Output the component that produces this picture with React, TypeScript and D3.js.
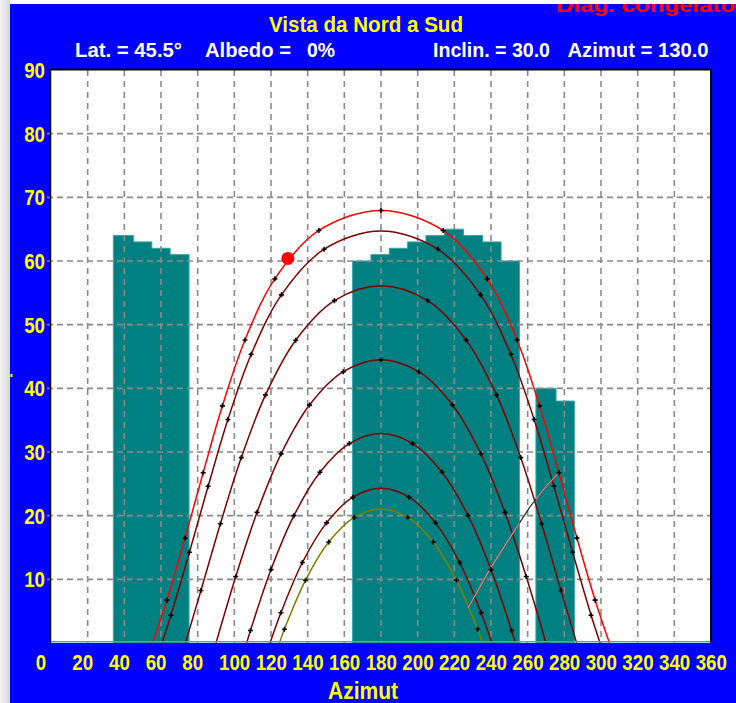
import React, { useRef, useEffect } from 'react'
import * as d3 from 'd3'

// sun paths, one per month: [azimut, altezza, crocetta oraria 1/0]
const giugno21 = [
  [55.4, 0, 0], [63.2, 6.73, 1], [73.1, 16.48, 1], [83.0, 26.75, 1], [93.5, 37.25, 1],
  [105.8, 47.6, 1], [122.1, 57.2, 1], [146.1, 64.8, 1], [180, 67.94, 1], [213.9, 64.8, 1],
  [237.9, 57.2, 1], [254.2, 47.6, 1], [266.5, 37.25, 1], [277.0, 26.75, 1], [286.9, 16.48, 1],
  [296.8, 6.73, 1], [304.6, 0, 0]
]
const maggio21 = [
  [60.5, 0, 0], [65.4, 4.36, 1], [75.5, 14.26, 1], [85.7, 24.61, 1], [96.5, 35.11, 1],
  [109.2, 45.35, 1], [125.7, 54.68, 1], [149.0, 61.85, 1], [180, 64.7, 0], [211.0, 61.85, 1],
  [234.3, 54.68, 1], [250.8, 45.35, 1], [263.5, 35.11, 1], [274.3, 24.61, 1], [284.5, 14.26, 1],
  [294.6, 4.36, 1], [299.5, 0, 0]
]
const aprile21 = [
  [73.3, 0, 0], [81.8, 8.25, 1], [92.4, 18.73, 1], [103.8, 29.12, 1], [117.0, 38.97, 1],
  [133.5, 47.56, 1], [154.6, 53.77, 1], [180, 56.1, 0], [205.4, 53.77, 1], [226.5, 47.56, 1],
  [243.0, 38.97, 1], [256.2, 29.12, 1], [267.6, 18.73, 1], [278.2, 8.25, 1], [286.7, 0, 0]
]
const marzo21 = [
  [90, 0, 0], [100.8, 10.45, 1], [112.4, 20.52, 1], [125.5, 29.71, 1], [141.0, 37.37, 1],
  [159.4, 42.61, 1], [180, 44.5, 1], [200.6, 42.61, 1], [219.0, 37.37, 1], [234.5, 29.71, 1],
  [247.6, 20.52, 1], [259.2, 10.45, 1], [270, 0, 0]
]
const febbraio21 = [
  [106.7, 0, 0], [108.8, 1.97, 1], [120.0, 11.53, 1], [132.5, 20.0, 1], [146.7, 26.82, 1],
  [162.7, 31.32, 1], [180, 32.9, 0], [197.3, 31.32, 1], [213.3, 26.82, 1], [227.5, 20.0, 1],
  [240.0, 11.53, 1], [251.2, 1.97, 1], [253.3, 0, 0]
]
const gennaio21 = [
  [119.5, 0, 0], [125.4, 4.74, 1], [137.1, 12.64, 1], [150.3, 18.87, 1], [164.7, 22.9, 1],
  [180, 24.3, 0], [195.3, 22.9, 1], [209.7, 18.87, 1], [222.9, 12.64, 1], [234.6, 4.74, 1],
  [240.5, 0, 0]
]
const dicembre21 = [
  [124.6, 0, 0], [127.3, 2.17, 1], [138.8, 9.85, 1], [151.5, 15.86, 1], [165.4, 19.72, 1],
  [180, 21.06, 0], [194.6, 19.72, 1], [208.5, 15.86, 1], [221.2, 9.85, 1], [232.7, 2.17, 1],
  [235.4, 0, 0]
]

const sunPaths = [
  { data: giugno21, color: '#ff0000' },
  { data: maggio21, color: '#800000' },
  { data: aprile21, color: '#800000' },
  { data: marzo21, color: '#800000' },
  { data: febbraio21, color: '#800000' },
  { data: gennaio21, color: '#800000' },
  { data: dicembre21, color: '#808000' }
]

// ostacoli (profilo dell'orizzonte): bordi in azimut e altezze
const ostacoli = [
  { edges: [34, 45, 55, 65, 75.3], heights: [64, 63, 62, 61] },
  { edges: [164.5, 174.5, 184.5, 194.5, 204.5, 214.5, 225, 235.5, 245.5, 255.5], heights: [60, 61, 62, 63, 64, 65, 64, 63, 60] },
  { edges: [264.5, 275.5, 285.5], heights: [40, 38] }
]

// linea del piano del pannello
const pianoPannello = [[227.5, 5.5], [239, 11.4], [250.4, 16.6], [261.3, 21.4], [270, 24.6], [277.0, 26.75]]

// normale del pannello
const normale = [129.2, 60.4]

const xTicks = [0, 20, 40, 60, 80, 100, 120, 140, 160, 180, 200, 220, 240, 260, 280, 300, 320, 340, 360]
const yTicks = [10, 20, 30, 40, 50, 60, 70, 80, 90]
const xGrid = xTicks.slice(1, -1)
const yGrid = yTicks.slice(0, -1)

const FONT = '"Liberation Sans", Arial, sans-serif'

const App = () => {
  const container = useRef(null)
  const width = 736
  const height = 703

  useEffect(() => {
    const svg = d3.select(container.current)
    svg.selectAll('*').remove()

    const x = d3.scaleLinear().domain([0, 360]).range([51, 711])
    const y = d3.scaleLinear().domain([0, 90]).range([643, 70])

    const defs = svg.append('defs')
    const grad = defs.append('linearGradient').attr('id', 'strip')
    grad.append('stop').attr('offset', '0%').attr('stop-color', '#f4f4f4')
    grad.append('stop').attr('offset', '100%').attr('stop-color', '#d6d6d6')
    defs.append('clipPath').attr('id', 'blueClip')
      .append('rect').attr('x', 10).attr('y', 4).attr('width', width - 10).attr('height', height - 4)

    // page background
    svg.append('rect').attr('width', width).attr('height', height).attr('fill', '#fff')
    svg.append('rect').attr('width', 10).attr('height', height).attr('fill', 'url(#strip)')
    svg.append('rect').attr('x', 10).attr('y', 4).attr('width', width - 10).attr('height', height - 4).attr('fill', '#0000ff')

    // plot area
    svg.append('rect')
      .attr('x', x(0)).attr('y', y(90))
      .attr('width', x(360) - x(0)).attr('height', y(0) - y(90))
      .attr('fill', '#fff')

    // obstacles
    const barArea = d3.area()
      .x(d => x(d[0]))
      .y0(y(0))
      .y1(d => y(d[1]))
      .curve(d3.curveStepAfter)
    const barLine = d3.line()
      .x(d => x(d[0]))
      .y(d => y(d[1]))
      .curve(d3.curveStepAfter)

    const clip = defs.append('clipPath').attr('id', 'barClip')

    ostacoli.forEach(g => {
      const pts = g.heights.map((h, i) => [g.edges[i], h])
      pts.push([g.edges[g.edges.length - 1], g.heights[g.heights.length - 1]])
      svg.append('path').attr('d', barArea(pts)).attr('fill', '#008080')
      clip.append('path').attr('d', barArea(pts))
      const outline = [[g.edges[0], 0], ...pts, [g.edges[g.edges.length - 1], 0]]
      svg.append('path').attr('d', barLine(outline))
        .attr('fill', 'none').attr('stroke', '#3aa6a6').attr('stroke-width', 1)
    })

    // grid
    svg.append('g')
      .selectAll('line')
      .data(yGrid)
      .enter()
      .append('line')
        .attr('x1', 47).attr('x2', x(360) - 1)
        .attr('y1', d => y(d)).attr('y2', d => y(d))
        .attr('stroke', '#8a8a8a').attr('stroke-width', 1.6)
        .attr('stroke-dasharray', '6,4')

    svg.append('g')
      .selectAll('line')
      .data(xGrid)
      .enter()
      .append('line')
        .attr('x1', d => x(d)).attr('x2', d => x(d))
        .attr('y1', y(90)).attr('y2', y(0))
        .attr('stroke', '#8a8a8a').attr('stroke-width', 1.6)
        .attr('stroke-dasharray', '6,5')

    // sun paths
    const path = d3.line()
      .x(d => x(d[0]))
      .y(d => y(d[1]))
      .curve(d3.curveCatmullRom.alpha(0.5))

    sunPaths.forEach(s => {
      svg.append('path')
        .attr('d', path(s.data))
        .attr('fill', 'none')
        .attr('stroke', s.color)
        .attr('stroke-width', 1.5)
    })

    // panel plane line
    const plane = d3.line().x(d => x(d[0])).y(d => y(d[1]))
    svg.append('path').attr('d', plane(pianoPannello))
      .attr('fill', 'none').attr('stroke', '#202020').attr('stroke-width', 1.2)
    svg.append('path').attr('d', plane(pianoPannello))
      .attr('clip-path', 'url(#barClip)')
      .attr('fill', 'none').attr('stroke', '#ff8080').attr('stroke-width', 1.2)

    // hour marks
    const marks = sunPaths.flatMap(s => s.data.filter(d => d[2] === 1))
    svg.append('g')
      .selectAll('path')
      .data(marks)
      .enter()
      .append('path')
        .attr('d', d => `M${x(d[0]) - 2.5},${y(d[1])}H${x(d[0]) + 2.5}M${x(d[0])},${y(d[1]) - 2.5}V${y(d[1]) + 2.5}`)
        .attr('stroke', '#000')
        .attr('stroke-width', 1.6)

    // panel normal
    svg.append('circle')
      .attr('cx', x(normale[0])).attr('cy', y(normale[1]))
      .attr('r', 6.5).attr('fill', '#ff0000')

    // frame
    svg.append('line').attr('x1', x(0) - 0.5).attr('x2', x(0) - 0.5).attr('y1', y(90) - 1).attr('y2', y(0))
      .attr('stroke', '#000').attr('stroke-width', 1.5)
    svg.append('line').attr('x1', x(0) - 1).attr('x2', x(360) + 1).attr('y1', y(90) - 0.5).attr('y2', y(90) - 0.5)
      .attr('stroke', '#000').attr('stroke-width', 2)
    svg.append('line').attr('x1', x(360)).attr('x2', x(360)).attr('y1', y(90) - 1).attr('y2', y(0))
      .attr('stroke', '#000').attr('stroke-width', 2)
    svg.append('line').attr('x1', x(0)).attr('x2', x(360) - 1).attr('y1', y(0) - 1.2).attr('y2', y(0) - 1.2)
      .attr('stroke', '#40b0b0').attr('stroke-width', 1.6)

    const label = (txt, px, py, size, len, color, anchor = 'start') =>
      svg.append('text')
        .attr('x', px).attr('y', py)
        .attr('text-anchor', anchor)
        .attr('textLength', len)
        .attr('lengthAdjust', 'spacingAndGlyphs')
        .style('font-family', FONT)
        .style('font-weight', 700)
        .style('font-size', `${size}px`)
        .style('fill', color)
        .text(txt)

    // axis labels
    yTicks.forEach(t => label(String(t), 45, y(t) + 8, 22, 20.8, '#ffff00', 'end'))
    xTicks.forEach(t => label(String(t), x(t) - 15.3, 669.5, 22.5, String(t).length * 10.4, '#ffff00'))
    label('Azimut', 328, 699, 23, 70, '#ffff00')

    // titles
    label('Vista da Nord a Sud', 269, 31.5, 22.5, 194, '#ffff00')
    label('Lat. = 45.5°', 75, 56.5, 19.5, 107, '#fff')
    label('Albedo =', 205, 56.5, 19.5, 86, '#fff')
    label('0%', 307, 56.5, 19.5, 28, '#fff')
    label('Inclin. = 30.0', 433, 56.5, 19.5, 117, '#fff')
    label('Azimut = 130.0', 567.5, 56.5, 19.5, 141, '#fff')
    label('Diag. congelato', 556, 11.7, 19.5, 179, '#ff0000')
      .attr('clip-path', 'url(#blueClip)')

    svg.append('rect').attr('x', 10.5).attr('y', 374).attr('width', 2).attr('height', 3).attr('fill', '#ffff00')
  }, [])

  return (
    <div style={{ position: 'absolute', left: 0, top: 0 }}>
      <svg width={width} height={height} ref={container} style={{ display: 'block' }}></svg>
    </div>
  )
}

export default App
